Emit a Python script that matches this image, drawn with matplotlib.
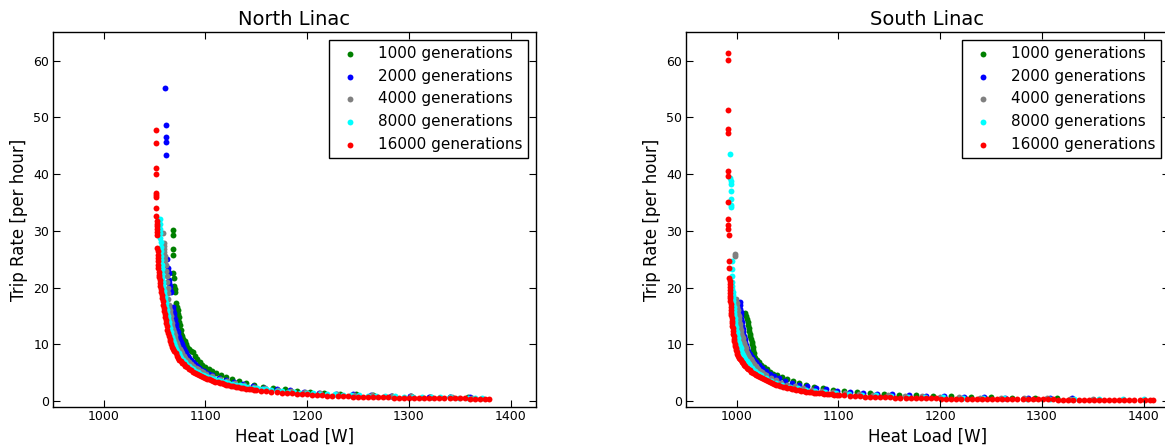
import matplotlib
matplotlib.use("Agg")
import matplotlib.pyplot as plt

# ---------------- data ----------------
series_labels = ["1000 generations", "2000 generations", "4000 generations",
                 "8000 generations", "16000 generations"]
series_colors = ["#008000", "#0000ff", "#808080", "#00ffff", "#ff0000"]
panel_titles = ["North Linac", "South Linac"]
x_ticks = [1000, 1100, 1200, 1300, 1400]
y_ticks = [0, 10, 20, 30, 40, 50, 60]

# ---- North Linac: (heat load W, trip rate per hour) ----
north_1000 = [
    (1067.8, 30.2), (1068.2, 29.3), (1068.4, 26.8), (1068.5, 25.7), (1068.7, 22.5), (1069.2, 21.7),
    (1069.5, 20.3), (1070, 19.7), (1070.5, 19.2), (1071.7, 17.2), (1072.3, 16.5), (1072.8, 16.0),
    (1073.3, 15.4), (1073.8, 14.8), (1074.3, 14.0), (1075, 13.4), (1075.8, 12.6), (1076.6, 11.9),
    (1077.5, 11.4), (1078.5, 11.0), (1079.8, 10.5), (1081, 10.0), (1082.5, 9.5), (1084, 9.2),
    (1086, 8.9), (1088, 8.6), (1090, 8.0), (1092, 7.4), (1094.5, 6.9), (1097, 6.4), (1100, 6.0),
    (1103.5, 5.6), (1107, 5.25), (1111, 4.9), (1115, 4.6), (1120, 4.25), (1126, 3.9), (1133, 3.5),
    (1140, 3.15), (1148, 2.85), (1157, 2.55), (1167, 2.28), (1178, 2.04), (1190, 1.82), (1203, 1.62),
    (1217, 1.45), (1232, 1.3), (1248, 1.17), (1265, 1.05), (1283, 0.95), (1302, 0.86), (1321, 0.78),
    (1340, 0.72), (1358, 0.67)]

north_2000 = [
    (1060.5, 55.2), (1061.2, 48.6), (1061.4, 46.6), (1061.5, 45.6), (1061.8, 43.4), (1062.5, 25.1),
    (1063.2, 23.4), (1063.6, 23.0), (1064.2, 22.6), (1064.4, 21.4), (1064.8, 20.8), (1065.2, 20.2),
    (1065.6, 19.6), (1066, 19.3), (1067.8, 16.6), (1068.3, 16.05), (1068.8, 15.5), (1069.3, 15.0),
    (1069.8, 14.5), (1070.3, 14.0), (1070.9, 13.5), (1071.5, 13.05), (1072.1, 12.6), (1072.8, 12.15),
    (1073.5, 11.7), (1074.2, 11.25), (1075, 10.8), (1075.9, 10.4), (1076.8, 10.0), (1077.8, 9.6),
    (1078.8, 9.2), (1080, 8.8), (1081.2, 8.4), (1082.6, 8.0), (1084, 7.6), (1085.7, 7.22),
    (1087.5, 6.85), (1089.5, 6.5), (1091.5, 6.15), (1093.7, 5.85), (1096, 5.55), (1098.5, 5.27),
    (1101, 5.0), (1104, 4.75), (1107, 4.5), (1113, 4.05), (1120, 3.65), (1128, 3.28), (1137, 2.95),
    (1147, 2.64), (1158, 2.36), (1170, 2.1), (1183, 1.87), (1197, 1.66), (1212, 1.48), (1228, 1.32),
    (1245, 1.18), (1263, 1.05), (1282, 0.94), (1301, 0.84), (1320, 0.76), (1340, 0.7), (1360, 0.64)]

north_4000 = [
    (1058.5, 29.6), (1059, 27.8), (1059.3, 27.3), (1059.6, 26.8), (1059.9, 26.3), (1060.2, 25.6),
    (1060.6, 24.8), (1061, 23.9), (1061.5, 23.0), (1062, 22.0), (1062.5, 21.0), (1063, 20.0),
    (1063.4, 19.0), (1063.8, 18.0), (1064.3, 17.0), (1064.6, 16.5), (1065, 16.0), (1065.5, 15.45),
    (1066, 14.9), (1066.5, 14.35), (1067.1, 13.8), (1067.7, 13.25), (1068.4, 12.7), (1069.1, 12.15),
    (1069.9, 11.6), (1070.7, 11.1), (1071.6, 10.6), (1072.6, 10.15), (1073.6, 9.7), (1074.8, 9.25),
    (1076, 8.8), (1077.4, 8.4), (1078.8, 8.0), (1080.4, 7.6), (1082, 7.2), (1084, 6.85), (1086, 6.5),
    (1088.2, 6.17), (1090.5, 5.85), (1093, 5.57), (1095.5, 5.3), (1098.2, 5.05), (1101, 4.8),
    (1107, 4.35), (1114, 3.9), (1121, 3.5), (1129, 3.15), (1138, 2.82), (1148, 2.52), (1159, 2.25),
    (1171, 2.0), (1184, 1.78), (1198, 1.58), (1213, 1.41), (1229, 1.26), (1246, 1.12), (1264, 1.0),
    (1283, 0.89), (1302, 0.8), (1322, 0.72), (1342, 0.66), (1362, 0.6)]

north_8000 = [
    (1055.3, 32.0), (1055.4, 31.2), (1055.5, 30.4), (1055.6, 29.6), (1055.8, 28.8), (1056, 28.0),
    (1056.2, 27.2), (1056.4, 26.4), (1056.6, 25.6), (1056.8, 24.8), (1057, 24.0), (1057.2, 23.2),
    (1057.5, 22.4), (1057.8, 21.6), (1058.1, 21.05), (1058.4, 20.5), (1058.8, 19.95), (1059.2, 19.4),
    (1059.6, 18.85), (1060.1, 18.3), (1060.5, 17.75), (1061, 17.2), (1061.5, 16.65), (1062, 16.1),
    (1062.5, 15.55), (1063, 15.0), (1063.5, 14.45), (1064.1, 13.9), (1064.7, 13.35), (1065.3, 12.8),
    (1066, 12.25), (1066.7, 11.7), (1067.5, 11.2), (1068.3, 10.7), (1069.2, 10.2), (1070.2, 9.7),
    (1071.3, 9.25), (1072.5, 8.8), (1073.7, 8.4), (1075, 8.0), (1076.5, 7.6), (1078, 7.2),
    (1079.7, 6.85), (1081.5, 6.5), (1083.5, 6.2), (1085.5, 5.9), (1087.7, 5.62), (1090, 5.35),
    (1092.5, 5.1), (1095, 4.85), (1097.5, 4.65), (1100, 4.45), (1103, 4.25), (1106, 4.05),
    (1109, 3.87), (1112, 3.7), (1115.5, 3.52), (1119, 3.35), (1122.5, 3.2), (1126, 3.05), (1130, 2.9),
    (1134, 2.75), (1138, 2.62), (1142, 2.5), (1146.5, 2.37), (1151, 2.25), (1155.5, 2.15),
    (1160, 2.05), (1165, 1.95), (1170, 1.85), (1175.5, 1.76), (1181, 1.67), (1187, 1.58), (1193, 1.5),
    (1199.5, 1.42), (1206, 1.35), (1213, 1.28), (1220, 1.21), (1227.5, 1.15), (1235, 1.09),
    (1243, 1.03), (1251, 0.98), (1259.5, 0.93), (1268, 0.88), (1277, 0.84), (1286, 0.8), (1295, 0.76),
    (1304, 0.73), (1313, 0.7), (1322, 0.67), (1331, 0.64), (1340, 0.62), (1349, 0.6), (1358, 0.58),
    (1365, 0.56), (1372, 0.55)]

north_16000 = [
    (1051.4, 47.7), (1051.4, 45.5), (1051.5, 41.0), (1051.5, 40.0), (1051.6, 36.7), (1051.7, 36.3),
    (1051.8, 36.0), (1052, 34.1), (1052, 32.7), (1052.2, 31.7), (1052.3, 31.2), (1052.4, 30.8),
    (1052.5, 30.3), (1052.5, 29.8), (1052.6, 29.2), (1053, 26.9), (1053.2, 26.4), (1053.4, 25.8),
    (1053.6, 25.2), (1053.8, 24.6), (1054, 24.0), (1054, 23.4), (1054.2, 22.8), (1054.3, 22.2),
    (1054.6, 21.8), (1055, 21.4), (1055.4, 20.85), (1055.8, 20.3), (1056.2, 19.75), (1056.6, 19.2),
    (1057, 18.65), (1057.5, 18.1), (1058, 17.55), (1058.5, 17.0), (1059, 16.45), (1059.5, 15.9),
    (1060, 15.35), (1060.5, 14.8), (1061, 14.25), (1061.6, 13.7), (1062.2, 13.15), (1062.8, 12.6),
    (1063.5, 12.05), (1064.2, 11.5), (1065, 11.0), (1065.8, 10.5), (1066.7, 10.05), (1067.6, 9.6),
    (1068.6, 9.2), (1069.6, 8.8), (1070.8, 8.4), (1072, 8.0), (1073.3, 7.65), (1074.6, 7.3),
    (1076, 7.0), (1077.5, 6.7), (1079, 6.45), (1080.5, 6.2), (1082.2, 5.95), (1084, 5.7),
    (1086, 5.45), (1088, 5.2), (1090, 5.0), (1092, 4.8), (1094, 4.6), (1096, 4.4), (1098, 4.25),
    (1100, 4.1), (1102, 3.95), (1104, 3.8), (1106, 3.68), (1108, 3.55), (1110, 3.42), (1112, 3.3),
    (1114, 3.2), (1116, 3.1), (1118, 3.0), (1120, 2.9), (1122.5, 2.8), (1125, 2.7), (1127.5, 2.6),
    (1130, 2.5), (1132.5, 2.41), (1135, 2.33), (1137.5, 2.25), (1140, 2.18), (1142.5, 2.11),
    (1145, 2.05), (1147.5, 1.98), (1150, 1.92), (1155, 1.82), (1160, 1.72), (1165, 1.63), (1170, 1.55),
    (1175, 1.47), (1180, 1.4), (1185, 1.33), (1190, 1.27), (1195, 1.21), (1200, 1.15), (1205, 1.1),
    (1210, 1.05), (1215, 1.0), (1220, 0.96), (1225, 0.92), (1230, 0.88), (1235, 0.85), (1240, 0.82),
    (1245, 0.79), (1250, 0.76), (1255, 0.73), (1260, 0.71), (1265, 0.69), (1270, 0.67), (1275, 0.65),
    (1280, 0.63), (1285, 0.61), (1290, 0.59), (1295, 0.58), (1300, 0.56), (1305, 0.55), (1310, 0.54),
    (1315, 0.52), (1320, 0.51), (1325, 0.5), (1330, 0.49), (1335, 0.48), (1340, 0.47), (1345, 0.46),
    (1350, 0.45), (1355, 0.45), (1360, 0.44), (1365, 0.43), (1370, 0.42), (1375, 0.42), (1379, 0.41)]

# ---- South Linac ----
south_1000 = [
    (1008.5, 15.5), (1009.5, 15.0), (1010.3, 14.4), (1010.8, 13.9), (1011.3, 13.4), (1011.9, 12.9),
    (1012.4, 12.4), (1013, 11.9), (1013.6, 11.4), (1014.2, 10.9), (1014.8, 10.4), (1015.4, 10.0),
    (1016, 9.5), (1016.5, 9.0), (1017, 8.5), (1017.5, 8.0), (1018.5, 7.6), (1020, 7.2), (1022, 6.8),
    (1024, 6.4), (1026.5, 6.0), (1029.5, 5.6), (1032.5, 5.2), (1036, 4.85), (1040, 4.5),
    (1044.5, 4.15), (1049.5, 3.8), (1055, 3.45), (1061, 3.12), (1068, 2.8), (1076, 2.5), (1085, 2.22),
    (1095, 1.97), (1106, 1.75), (1118, 1.56), (1131, 1.39), (1145, 1.24), (1160, 1.11), (1176, 0.99),
    (1193, 0.89), (1211, 0.8), (1230, 0.72), (1250, 0.65), (1271, 0.59), (1293, 0.54), (1315, 0.49)]

south_2000 = [
    (1003, 17.5), (1003.3, 16.9), (1003.6, 16.3), (1003.9, 15.7), (1004.2, 15.2), (1004.6, 14.5),
    (1005, 13.9), (1005.4, 13.3), (1005.8, 12.7), (1006.3, 12.1), (1006.8, 11.5), (1007.8, 11.0),
    (1008.7, 10.4), (1009.6, 9.9), (1010.5, 9.3), (1011.5, 8.8), (1013, 8.3), (1015, 7.8), (1017, 7.3),
    (1019.5, 6.8), (1022, 6.3), (1025, 5.8), (1028.5, 5.3), (1032.5, 4.85), (1037, 4.4), (1042, 3.98),
    (1048, 3.58), (1054, 3.22), (1061, 2.9), (1069, 2.6), (1078, 2.32), (1088, 2.07), (1099, 1.84),
    (1111, 1.64), (1124, 1.46), (1138, 1.3), (1153, 1.16), (1169, 1.03), (1186, 0.92), (1204, 0.82),
    (1223, 0.74), (1243, 0.67), (1264, 0.61), (1286, 0.55), (1308, 0.5), (1330, 0.46)]

south_4000 = [
    (998.7, 25.9), (998.9, 25.6), (999.5, 18.0), (1000, 17.3), (1000.5, 16.6), (1001, 16.0),
    (1001.5, 15.4), (1001.9, 14.95), (1002.3, 14.5), (1002.7, 14.0), (1003.2, 13.5), (1003.7, 13.0),
    (1004.2, 12.5), (1004.7, 12.0), (1005.3, 11.5), (1005.9, 11.05), (1006.5, 10.6), (1007.2, 10.15),
    (1008, 9.7), (1008.8, 9.3), (1009.7, 8.9), (1010.6, 8.5), (1011.6, 8.1), (1012.6, 7.75),
    (1013.7, 7.4), (1014.8, 7.07), (1016, 6.75), (1017.3, 6.45), (1018.6, 6.15), (1020, 5.87),
    (1021.5, 5.6), (1023.2, 5.32), (1025, 5.05), (1027, 4.8), (1029, 4.55), (1033.5, 4.1),
    (1038.5, 3.65), (1044, 3.25), (1050, 2.9), (1057, 2.58), (1065, 2.28), (1074, 2.02), (1084, 1.79),
    (1095, 1.58), (1107, 1.4), (1120, 1.25), (1134, 1.11), (1149, 0.99), (1165, 0.89), (1182, 0.8),
    (1200, 0.72), (1219, 0.65), (1239, 0.59), (1260, 0.54), (1282, 0.49), (1305, 0.45), (1328, 0.41),
    (1350, 0.38)]

south_8000 = [
    (993.5, 43.6), (994, 39.3), (994.1, 38.8), (994.2, 38.3), (994.3, 37.0), (994.4, 35.7),
    (994.5, 34.6), (994.6, 34.2), (995, 24.6), (995.1, 23.3), (995.2, 22.0), (995.5, 20.9),
    (995.65, 20.35), (995.8, 19.8), (996, 19.25), (996.2, 18.7), (996.4, 18.15), (996.6, 17.6),
    (996.8, 17.1), (997, 16.6), (997.25, 16.1), (997.5, 15.6), (997.8, 15.1), (998.1, 14.6),
    (998.45, 14.1), (998.8, 13.6), (999.2, 13.1), (999.6, 12.6), (1000.1, 12.1), (1000.6, 11.6),
    (1001.2, 11.1), (1001.8, 10.6), (1002.5, 10.15), (1003.2, 9.7), (1004, 9.3), (1004.8, 8.9),
    (1005.7, 8.5), (1006.6, 8.1), (1007.6, 7.75), (1008.7, 7.4), (1009.8, 7.07), (1011, 6.75),
    (1012.2, 6.45), (1013.5, 6.15), (1015, 5.85), (1016.5, 5.55), (1018.2, 5.27), (1020, 5.0),
    (1022, 4.75), (1024, 4.5), (1028.5, 4.05), (1033.5, 3.6), (1039, 3.2), (1045, 2.85), (1052, 2.52),
    (1060, 2.22), (1068, 1.98), (1077, 1.76), (1087, 1.56), (1098, 1.38), (1110, 1.23), (1123, 1.1),
    (1137, 0.98), (1152, 0.88), (1168, 0.79), (1185, 0.71), (1203, 0.64), (1222, 0.58), (1242, 0.53),
    (1263, 0.48), (1285, 0.44), (1308, 0.4), (1332, 0.36), (1356, 0.33), (1380, 0.3), (1400, 0.28)]

south_16000 = [
    (991.3, 61.4), (991.3, 60.1), (991.5, 51.3), (991.6, 48.0), (991.6, 47.2), (991.7, 40.6),
    (991.7, 39.6), (991.8, 35.1), (991.9, 32.0), (991.9, 31.1), (992, 30.3), (992.2, 29.3),
    (992.6, 24.6), (992.7, 23.4), (993, 21.6), (993.1, 21.1), (993.2, 20.6), (993.3, 20.1),
    (993.4, 19.6), (993.55, 19.1), (993.7, 18.6), (993.85, 18.1), (994, 17.6), (994.15, 17.1),
    (994.3, 16.6), (994.5, 16.1), (994.7, 15.6), (994.9, 15.1), (995.1, 14.6), (995.35, 14.15),
    (995.6, 13.7), (995.9, 13.25), (996.2, 12.8), (996.5, 12.35), (996.8, 11.9), (997.15, 11.45),
    (997.5, 11.0), (997.9, 10.55), (998.3, 10.1), (998.7, 9.7), (999.1, 9.3), (999.55, 8.95),
    (1000, 8.6), (1000.6, 8.25), (1001.2, 7.9), (1002.1, 7.65), (1003, 7.4), (1004, 7.15), (1005, 6.9),
    (1006.2, 6.65), (1007.5, 6.4), (1008.7, 6.15), (1010, 5.9), (1011.5, 5.65), (1013, 5.4),
    (1014.5, 5.17), (1016, 4.95), (1017.7, 4.75), (1019.5, 4.55), (1021.2, 4.35), (1023, 4.15),
    (1025, 3.97), (1027, 3.8), (1029, 3.62), (1031, 3.45), (1033, 3.3), (1035, 3.15), (1037, 3.02),
    (1039, 2.9), (1041, 2.77), (1043, 2.65), (1045.2, 2.53), (1047.5, 2.42), (1049.7, 2.32),
    (1052, 2.22), (1054.2, 2.13), (1056.5, 2.04), (1058.7, 1.96), (1061, 1.88), (1063.5, 1.8),
    (1066, 1.73), (1068.5, 1.66), (1071, 1.6), (1073.5, 1.54), (1076, 1.48), (1078.5, 1.43),
    (1081, 1.38), (1083.5, 1.33), (1086, 1.29), (1088.5, 1.24), (1091, 1.2), (1093.5, 1.16),
    (1096, 1.12), (1098.5, 1.08), (1101, 1.05), (1106, 0.99), (1111, 0.93), (1116, 0.88), (1121, 0.83),
    (1126, 0.79), (1131, 0.75), (1136, 0.72), (1141, 0.69), (1146, 0.66), (1151, 0.63), (1156, 0.61),
    (1161, 0.58), (1166, 0.56), (1171, 0.54), (1176, 0.52), (1181, 0.5), (1186, 0.48), (1191, 0.47),
    (1196, 0.45), (1201, 0.44), (1206, 0.43), (1211, 0.42), (1216, 0.41), (1221, 0.4), (1226, 0.39),
    (1231, 0.38), (1236, 0.37), (1241, 0.36), (1246, 0.35), (1251, 0.34), (1256, 0.34), (1261, 0.33),
    (1266, 0.32), (1271, 0.32), (1276, 0.31), (1281, 0.3), (1286, 0.3), (1291, 0.29), (1296, 0.28),
    (1301, 0.28), (1306, 0.27), (1311, 0.27), (1316, 0.26), (1321, 0.26), (1326, 0.25), (1331, 0.25),
    (1336, 0.24), (1341, 0.24), (1346, 0.23), (1351, 0.23), (1356, 0.22), (1361, 0.22), (1366, 0.21),
    (1371, 0.21), (1376, 0.2), (1381, 0.2), (1386, 0.19), (1391, 0.19), (1396, 0.18), (1401, 0.18),
    (1406, 0.17), (1409, 0.17)]

north_series = [north_1000, north_2000, north_4000, north_8000, north_16000]
south_series = [south_1000, south_2000, south_4000, south_8000, south_16000]

# ---------------- figure ----------------
plt.rcParams['font.family'] = ['DejaVu Sans']
fig = plt.figure(figsize=(11.65, 4.45), dpi=100)
fig.patch.set_facecolor('white')

ax_positions = [[0.0452, 0.0861, 0.4149, 0.8413],
                [0.5886, 0.0861, 0.4149, 0.8413]]

for pos, title, data in zip(ax_positions, panel_titles, [north_series, south_series]):
    ax = fig.add_axes(pos)
    for pts, lab, col in zip(data, series_labels, series_colors):
        xs = [p[0] for p in pts]
        ys = [p[1] for p in pts]
        ax.scatter(xs, ys, s=18, c=col, linewidths=0, label=lab)
    ax.set_xlim(950, 1425)
    ax.set_ylim(-1, 65)
    ax.set_xticks(x_ticks)
    ax.set_yticks(y_ticks)
    ax.tick_params(direction='in', top=True, right=True, length=5, width=0.8,
                   labelsize=9, pad=2.5)
    for sp in ax.spines.values():
        sp.set_linewidth(1.0)
        sp.set_color('black')
    ax.set_title(title, fontsize=14, pad=5.5)
    ax.set_xlabel("Heat Load [W]", fontsize=12, labelpad=3)
    ax.set_ylabel("Trip Rate [per hour]", fontsize=12, labelpad=4)
    leg = ax.legend(loc='upper right', scatterpoints=1, fontsize=11, fancybox=False,
                    framealpha=1, edgecolor='black', labelspacing=0.5,
                    borderaxespad=0.5, handletextpad=0.8)
    leg.get_frame().set_linewidth(1.0)

fig.savefig("out.png", dpi=100)
